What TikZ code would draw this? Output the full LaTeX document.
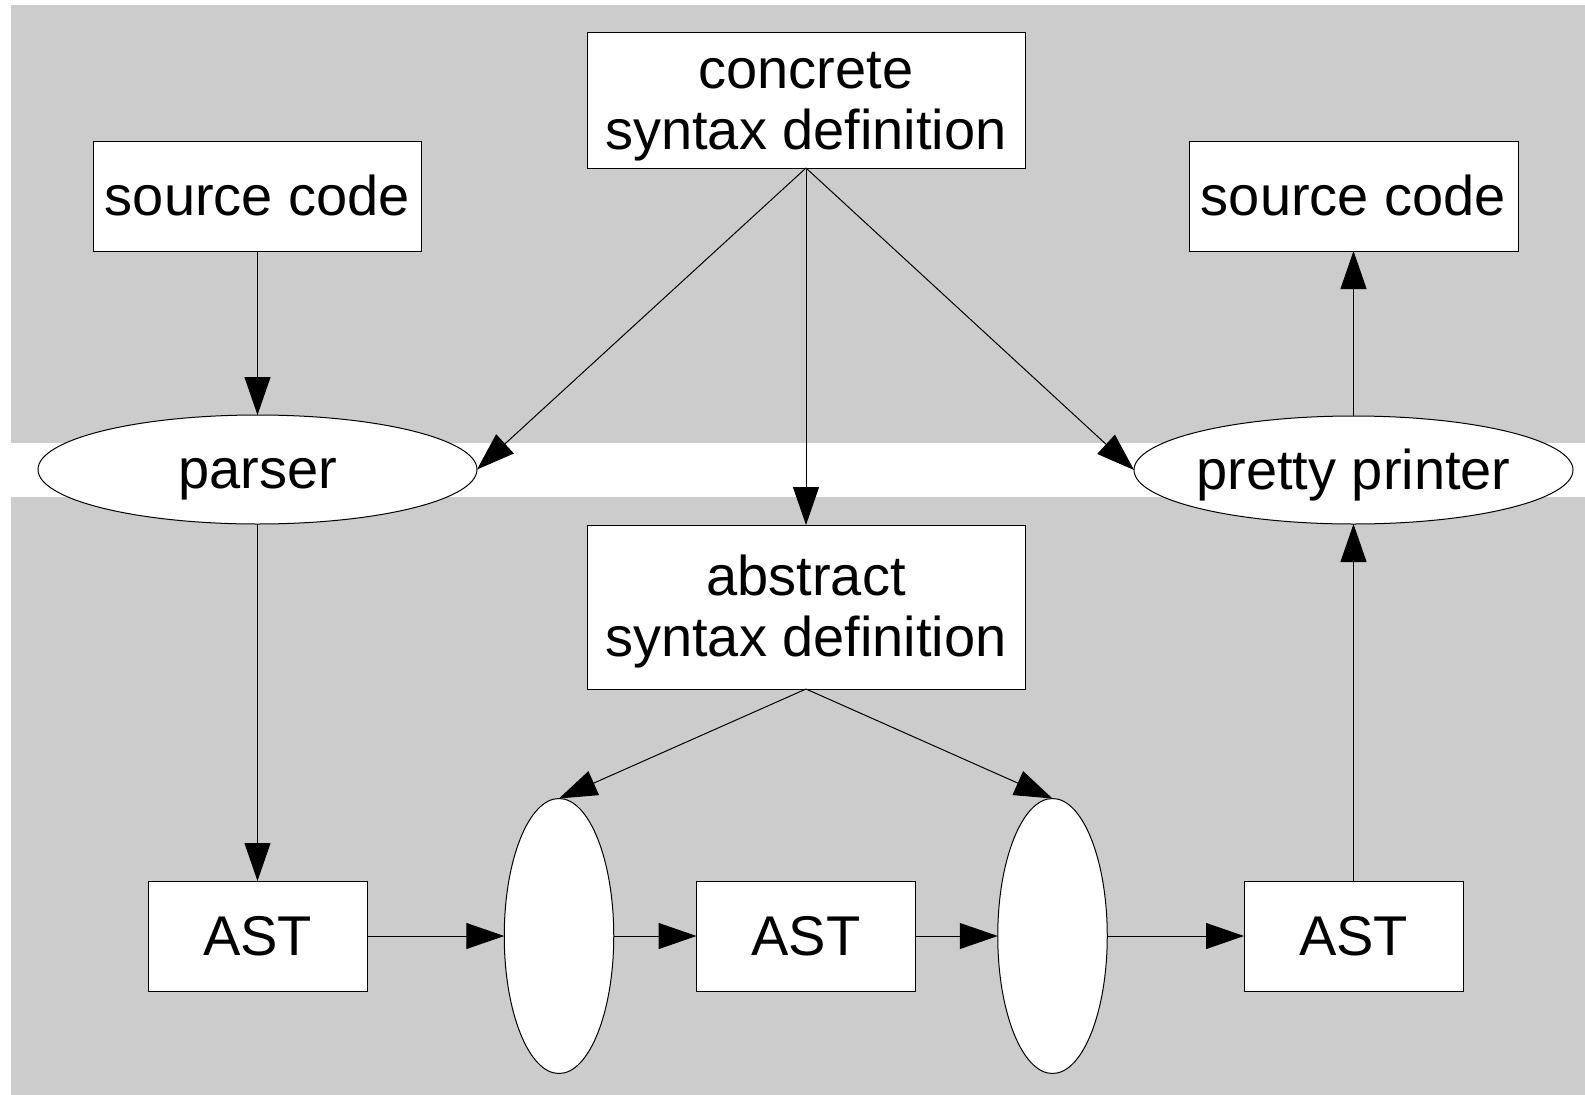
\documentclass[tikz,border=0pt]{standalone}
\usepackage{fontspec}
\setmainfont{Liberation Sans}
\usetikzlibrary{shapes.geometric,arrows.meta}
\definecolor{bandgray}{HTML}{CCCCCC}
\begin{document}
\begin{tikzpicture}[x=1pt,y=-1pt,
  every node/.style={font=\fontsize{56}{61}\selectfont, inner sep=0pt, outer sep=0pt},
  box/.style={draw=black, fill=white, line width=1pt, rectangle},
  oval/.style={draw=black, fill=white, line width=1pt, ellipse},
  oneline/.style={text height=50.7pt, text depth=11.9pt},
  conn/.style={draw=black, line width=1pt, -{Triangle[length=38pt,width=26pt]}},
  band/.style={fill=bandgray, draw=none}]
\useasboundingbox[fill=white] (0,0) rectangle (1585,1095);
\path[band] (11,5) rectangle (1585,443);
\path[band] (11,497) rectangle (1585,1095);

\node[box, oneline, minimum width=328pt, minimum height=110pt] (src1) at (257.5,196) {source code};
\node[box, align=center, minimum width=438pt, minimum height=136pt] (csd) at (806,100)
  {\rule{0pt}{50.7pt}concrete\\syntax definition\rule[-11.9pt]{0pt}{11.9pt}};
\node[box, oneline, minimum width=329pt, minimum height=110pt] (src2) at (1353.5,196) {source code};
\node[oval, oneline, minimum width=439pt, minimum height=109pt] (parser) at (257.5,469.5) {parser};
\node[oval, oneline, minimum width=439pt, minimum height=108pt] (pp) at (1353.5,470) {\makebox[0pt]{pretty printer}};
\node[box, align=center, minimum width=438pt, minimum height=164pt] (asd) at (806,607)
  {\rule{0pt}{50.7pt}abstract\\syntax definition\rule[-11.9pt]{0pt}{11.9pt}};
\node[box, oneline, minimum width=219pt, minimum height=110pt] (ast1) at (257.5,936) {AST};
\node[oval, minimum width=109.5pt, minimum height=275pt] (t1) at (559,936) {};
\node[box, oneline, minimum width=219pt, minimum height=110pt] (ast2) at (806,936) {AST};
\node[oval, minimum width=109.5pt, minimum height=275pt] (t2) at (1052.5,936) {};
\node[box, oneline, minimum width=219pt, minimum height=110pt] (ast3) at (1353.5,936) {AST};

\draw[conn] (src1.south) -- (parser.north);
\draw[conn] (parser.south) -- (ast1.north);
\draw[conn] (csd.south) -- (parser.east);
\draw[conn] (csd.south) -- (asd.north);
\draw[conn] (csd.south) -- (pp.west);
\draw[conn] (asd.south) -- (t1.north);
\draw[conn] (asd.south) -- (t2.north);
\draw[conn] (ast1.east) -- (t1.west);
\draw[conn] (t1.east) -- (ast2.west);
\draw[conn] (ast2.east) -- (t2.west);
\draw[conn] (t2.east) -- (ast3.west);
\draw[conn] (ast3.north) -- (pp.south);
\draw[conn] (pp.north) -- (src2.south);
\end{tikzpicture}
\end{document}
